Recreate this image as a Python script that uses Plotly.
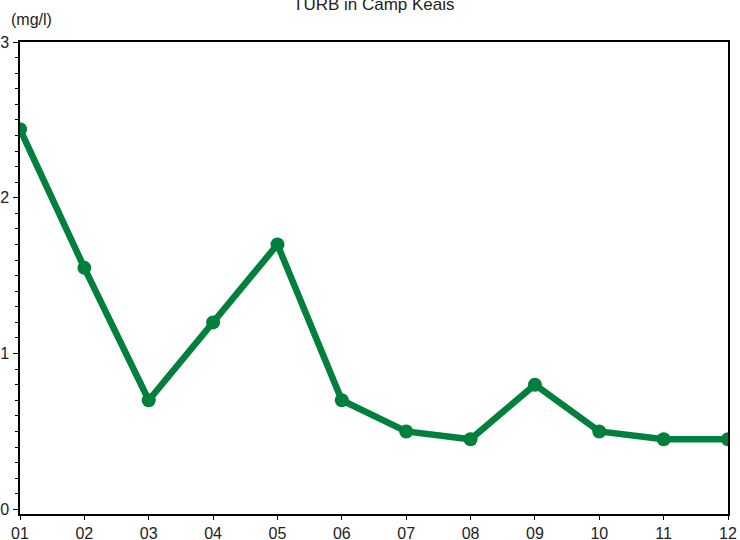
import plotly.graph_objects as go

# monthly turbidity readings
months = ["01", "02", "03", "04", "05", "06", "07", "08", "09", "10", "11", "12"]
turb = [2.44, 1.55, 0.70, 1.20, 1.70, 0.70, 0.50, 0.45, 0.80, 0.50, 0.45, 0.45]

green = "#007f3d"
font_family = "Liberation Sans, Arial, sans-serif"

fig = go.Figure()
fig.add_trace(go.Scatter(
    x=list(range(1, len(months) + 1)),
    y=turb,
    mode="lines+markers",
    line=dict(color=green, width=6.5),
    marker=dict(color=green, size=14),
    showlegend=False,
    hoverinfo="x+y"))

fig.update_layout(
    width=740, height=540,
    margin=dict(l=20, r=12, t=42, b=26),
    plot_bgcolor="#FFF",
    paper_bgcolor="#FFF",
    font=dict(family=font_family, size=16, color="#222"),
    xaxis=dict(
        range=[1, 12],
        tickmode="array",
        tickvals=list(range(1, len(months) + 1)),
        ticktext=months,
        ticks="outside", ticklen=4, tickcolor="#000",
        showline=True, linecolor="#000", linewidth=1.5, mirror=True,
        showgrid=False, zeroline=False,
        automargin=False),
    yaxis=dict(
        range=[-0.03, 3],
        tickmode="linear", tick0=0, dtick=1,
        ticks="outside", ticklen=5, tickcolor="#000",
        minor=dict(tick0=0, dtick=0.1, ticks="outside", ticklen=3,
                   tickcolor="#000", tickwidth=1),
        showline=True, linecolor="#000", linewidth=1.5, mirror=True,
        showgrid=False, zeroline=False,
        ticklabelstandoff=1,
        automargin=False),
    annotations=[
        dict(text="TURB in Camp Keais", x=0.5, xref="paper", y=1.0, yref="paper",
             showarrow=False, font=dict(size=17, color="#222"),
             xanchor="center", yanchor="middle", yshift=38),
        dict(text="(mg/l)", x=0.0, xref="paper", y=1.0, yref="paper",
             showarrow=False, font=dict(size=16, color="#222"),
             xanchor="left", yanchor="bottom", xshift=-11, yshift=12),
    ],
)

# drop the default 8px body margin so the figure sits at the page corner
fig.write_html("out.html", config={"displayModeBar": False},
               post_script="document.body.style.margin='0';")
